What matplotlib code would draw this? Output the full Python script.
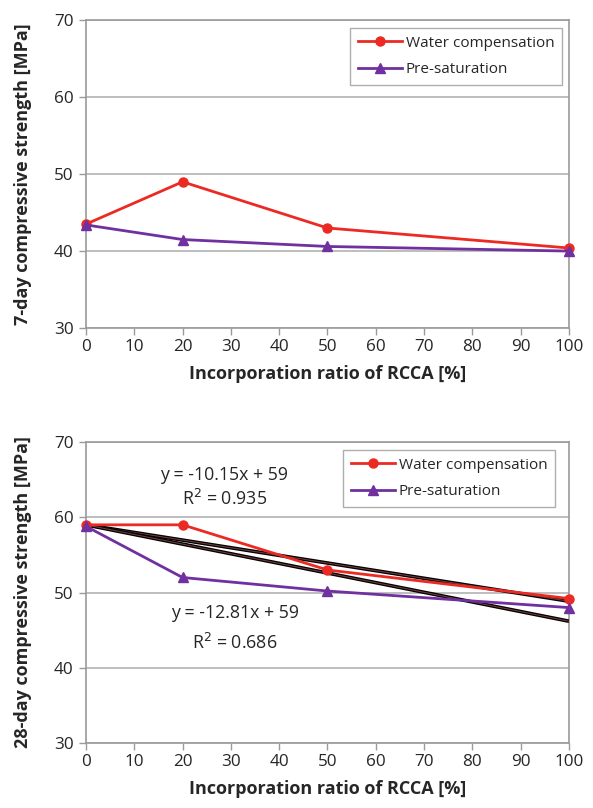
import matplotlib
matplotlib.use("Agg")
import matplotlib.pyplot as plt
import numpy as np

plt.rcParams['font.family'] = ['Open Sans', 'DejaVu Sans']

# Incorporation ratio of RCCA [%]
ratio = [0, 20, 50, 100]

# 7-day compressive strength [MPa]
wc_7d = [43.5, 49.0, 43.0, 40.4]
ps_7d = [43.4, 41.5, 40.6, 40.0]

# 28-day compressive strength [MPa]
wc_28d = [59.0, 59.0, 53.0, 49.2]
ps_28d = [58.8, 52.0, 50.2, 48.0]

# Linear trendlines (x as fraction of replacement)
trend_wc = (-10.15, 59.0, 0.935)
trend_ps = (-12.81, 59.0, 0.686)

xticks = list(range(0, 101, 10))
yticks = [30, 40, 50, 60, 70]

RED = '#ec2a24'
PURPLE = '#7030a0'
GRID = '#b3b3b3'
TXT = '#262626'

fig = plt.figure(figsize=(5.93, 8.08), dpi=100)
ax1 = fig.add_axes([0.145, 0.594, 0.8145, 0.381])
ax2 = fig.add_axes([0.145, 0.0804, 0.8145, 0.3725])


def style(ax, ylabel):
    ax.set_xlim(0, 100)
    ax.set_ylim(30, 70)
    ax.set_xticks(xticks)
    ax.set_yticks(yticks)
    ax.grid(axis='y', color=GRID, lw=1.2)
    ax.set_axisbelow(True)
    for s in ax.spines.values():
        s.set_color('#9a9a9a')
        s.set_linewidth(1.2)
    ax.tick_params(axis='both', colors='#9a9a9a', labelcolor=TXT,
                   labelsize=12.3, length=5, width=1.0)
    ax.tick_params(axis='y', pad=4)
    ax.tick_params(axis='x', pad=3)
    ax.set_xlabel('Incorporation ratio of RCCA [%]', fontsize=13,
                  fontweight='bold', color=TXT, labelpad=7)
    ax.set_ylabel(ylabel, fontsize=13, fontweight='bold', color=TXT)
    ax.yaxis.set_label_coords(-0.112, 0.5)


def legend(ax, anchor):
    leg = ax.legend(loc='upper right', fontsize=11, frameon=True,
                    fancybox=False, edgecolor='#9a9a9a', borderpad=0.5,
                    handlelength=2.9, handletextpad=0.25, labelspacing=0.75,
                    borderaxespad=0.0, bbox_to_anchor=anchor)
    leg.get_frame().set_linewidth(1.0)
    for t in leg.get_texts():
        t.set_color(TXT)


# 7-day
ax1.plot(ratio, wc_7d, color=RED, lw=2, marker='o', ms=6.5,
         label='Water compensation', clip_on=False, zorder=4)
ax1.plot(ratio, ps_7d, color=PURPLE, lw=2, marker='^', ms=6.5,
         label='Pre-saturation', clip_on=False, zorder=4)
style(ax1, '7-day compressive strength [MPa]')
legend(ax1, (0.9855, 0.974))

# 28-day
ax2.plot(ratio, wc_28d, color=RED, lw=2, marker='o', ms=6.5,
         label='Water compensation', clip_on=False, zorder=4)
ax2.plot(ratio, ps_28d, color=PURPLE, lw=2, marker='^', ms=6.5,
         label='Pre-saturation', clip_on=False, zorder=4)

xx = np.array([0, 100])
for slope, icpt, _ in (trend_wc, trend_ps):
    yy = slope * xx / 100 + icpt
    ax2.plot(xx, yy, color='black', lw=2.6, zorder=3, solid_capstyle='butt')
    ax2.plot(xx, yy, color='#6e3a3a', lw=0.8, zorder=3, solid_capstyle='butt')

style(ax2, '28-day compressive strength [MPa]')
legend(ax2, (0.971, 0.973))

eq_kw = dict(fontsize=12.8, color=TXT, ha='center', va='center')
ax2.text(28.6, 65.6, f'y = {trend_wc[0]:.2f}x + {trend_wc[1]:.0f}', **eq_kw)
ax2.text(28.6, 62.4, f'R$^2$ = {trend_wc[2]:.3f}', **eq_kw)
ax2.text(30.8, 47.3, f'y = {trend_ps[0]:.2f}x + {trend_ps[1]:.0f}', **eq_kw)
ax2.text(30.8, 43.3, f'R$^2$ = {trend_ps[2]:.3f}', **eq_kw)

fig.savefig('out.png', dpi=100)
